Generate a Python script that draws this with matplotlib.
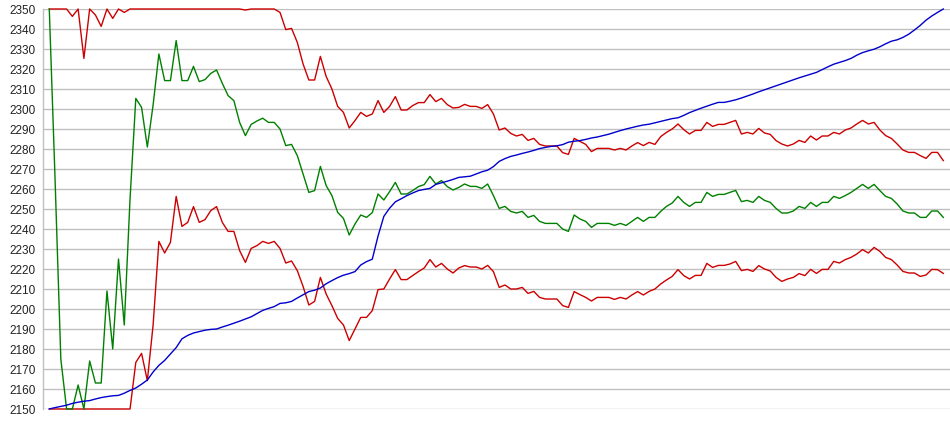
import matplotlib.pyplot as plt

plt.rcParams['font.family'] = ['Liberation Sans', 'DejaVu Sans']

# upper band (red), middle line (green), lower band (red), trend (blue)
upper = [2350, 2350, 2350, 2350, 2346.3, 2350, 2325.3, 2350, 2347, 2341.3,
         2350, 2345.3, 2350, 2348.3, 2350, 2350, 2350, 2350, 2350, 2350,
         2350, 2350, 2350, 2350, 2350, 2350, 2350, 2350, 2350, 2350,
         2350, 2350, 2350, 2350, 2349.5, 2350, 2350, 2350, 2350, 2350,
         2348.3, 2339.7, 2340.3, 2333.3, 2322.5, 2314.5, 2314.5, 2326.3, 2316.3, 2310,
         2301.3, 2298.3, 2290.5, 2294.2, 2298.3, 2296.3, 2297.5, 2304.2, 2298.3, 2301.3,
         2306.2, 2299.5, 2299.5, 2301.7, 2303.2, 2303.2, 2307.2, 2303.7, 2305.3, 2302.2,
         2300.5, 2300.8, 2302.3, 2301.3, 2301.3, 2300.3, 2302.2, 2297.5, 2289.5, 2290.5,
         2287.8, 2286.5, 2287.3, 2284.3, 2285.3, 2282.3, 2281.5, 2281.5, 2281.5, 2278.2,
         2277.3, 2285.3, 2283.8, 2282.3, 2278.7, 2280.3, 2280.3, 2280.3, 2279.5, 2280.3,
         2279.5, 2281.5, 2283.2, 2281.7, 2283.3, 2282.3, 2286.2, 2288.3, 2290, 2292.5,
         2289.7, 2287.5, 2289.3, 2289.3, 2293.3, 2291.3, 2292.3, 2292.3, 2293.3, 2294.3,
         2287.5, 2288.3, 2287.5, 2290.3, 2288, 2287.3, 2284.2, 2282.5, 2281.5, 2282.5,
         2284.3, 2283.3, 2286.5, 2284.5, 2286.5, 2286.5, 2288.3, 2287.5, 2289.5, 2290.5,
         2292.5, 2294.3, 2292.5, 2293.3, 2289.5, 2286.7, 2285.3, 2282.5, 2279.5, 2278.3,
         2278.3, 2276.7, 2275.3, 2278.3, 2278.3, 2274.2]

middle = [2350, 2265, 2175, 2150, 2150, 2162, 2150, 2174, 2163, 2163,
          2209, 2180, 2225, 2192, 2255, 2305.3, 2300.8, 2281, 2302, 2327.5,
          2314.2, 2314.2, 2334.2, 2314.2, 2314.2, 2321.3, 2313.7, 2314.7, 2317.8, 2319.5,
          2312.8, 2306.7, 2304.2, 2293.3, 2286.7, 2292.3, 2294, 2295.4, 2293.3, 2293.3,
          2290, 2281.7, 2282.3, 2276.7, 2267.5, 2258.3, 2259.2, 2271.3, 2261.7, 2256.7,
          2248.3, 2245.3, 2237, 2242.5, 2247, 2245.8, 2248.2, 2257.5, 2254.5, 2258.7,
          2263.3, 2257.5, 2257.5, 2259.2, 2261.2, 2262.2, 2266.3, 2262.5, 2264.2, 2261.2,
          2259.5, 2260.8, 2262.5, 2261.3, 2261.3, 2260.3, 2262.5, 2256.7, 2250.3, 2251.3,
          2248.8, 2248, 2248.8, 2245.8, 2246.8, 2243.8, 2242.8, 2242.8, 2242.8, 2240,
          2238.8, 2247, 2245, 2243.8, 2240.8, 2242.8, 2242.8, 2242.8, 2241.8, 2242.8,
          2241.8, 2243.8, 2245.8, 2243.8, 2245.8, 2245.8, 2248.8, 2251.3, 2253, 2256.3,
          2253.3, 2251.3, 2253.3, 2253.3, 2258.3, 2256.3, 2257.3, 2257.3, 2258.3, 2259.3,
          2253.7, 2254.3, 2253.3, 2256.3, 2254.3, 2253.3, 2250.3, 2248, 2248, 2249,
          2251.3, 2250.3, 2253.3, 2251.3, 2253.3, 2253.3, 2256.3, 2255.3, 2256.7, 2258.3,
          2260.3, 2262.3, 2260.3, 2262.3, 2259.2, 2256.3, 2255.3, 2252.5, 2249, 2248,
          2248, 2245.8, 2245.8, 2249, 2249, 2245.8]

lower = [2150, 2150, 2150, 2150, 2150, 2150, 2150, 2150, 2150, 2150,
         2150, 2150, 2150, 2150, 2150, 2173.3, 2177.8, 2164.2, 2192, 2233.8,
         2228, 2233.3, 2256.3, 2241.3, 2243.3, 2251.2, 2243.3, 2244.7, 2249.2, 2251.2,
         2243.3, 2238.8, 2238.8, 2229.2, 2223.3, 2230.3, 2231.7, 2233.8, 2232.8, 2233.8,
         2230.3, 2223, 2224, 2219.2, 2211.3, 2202, 2203.8, 2215.8, 2207.5, 2201.7,
         2195.3, 2192, 2184.2, 2190, 2195.8, 2195.8, 2199.2, 2209.7, 2210, 2215,
         2219.7, 2214.7, 2214.7, 2216.7, 2218.7, 2220.5, 2224.7, 2221, 2222.8, 2220,
         2218, 2220.5, 2221.7, 2221, 2221, 2220, 2221.8, 2218.7, 2210.8, 2212,
         2210, 2210, 2210.8, 2207.8, 2208.8, 2205.8, 2205, 2205, 2205, 2201.7,
         2200.8, 2208.7, 2207.2, 2205.8, 2204, 2205.8, 2205.8, 2205.8, 2204.8, 2205.8,
         2205, 2207, 2208.7, 2207, 2208.8, 2210, 2212.5, 2214.5, 2216.3, 2219.7,
         2216.7, 2215, 2216.8, 2216.8, 2222.8, 2220.8, 2221.8, 2221.8, 2222.5, 2223.8,
         2219.2, 2219.8, 2218.8, 2221.7, 2220, 2219, 2215.8, 2213.8, 2215, 2215.8,
         2217.7, 2216.7, 2219.8, 2217.8, 2219.8, 2219.8, 2223.8, 2223, 2224.7, 2225.8,
         2227.5, 2229.7, 2228, 2230.8, 2228.8, 2225.8, 2224.7, 2222, 2218.8, 2218,
         2218, 2216.3, 2217, 2219.8, 2219.7, 2217.8]

trend = [2150, 2150.7, 2151.3, 2151.9, 2152.8, 2153.4, 2153.9, 2154.2, 2155, 2155.7,
         2156.2, 2156.6, 2156.8, 2157.9, 2159.3, 2160.5, 2162.4, 2164.5, 2168.5, 2171.8,
         2174.3, 2177.5, 2180.7, 2185.1, 2186.8, 2188, 2188.7, 2189.4, 2189.8, 2190,
         2191, 2191.9, 2192.9, 2193.9, 2195, 2196.1, 2197.7, 2199.3, 2200.3, 2201.2,
         2202.8, 2203.1, 2203.8, 2205.5, 2207.1, 2208.7, 2209.4, 2210.5, 2212.6, 2214.2,
         2215.7, 2216.9, 2217.7, 2218.7, 2222, 2223.7, 2224.9, 2236.5, 2246.3, 2250.4,
         2253.6, 2255.1, 2256.7, 2258, 2259.2, 2259.8, 2260.3, 2262.3, 2263.1, 2263.9,
         2264.8, 2265.8, 2266.1, 2266.4, 2267.5, 2268.6, 2269.4, 2271.2, 2273.8, 2275.2,
         2276.3, 2277, 2277.8, 2278.5, 2279.3, 2280.2, 2280.8, 2281.3, 2281.6, 2282.2,
         2283.4, 2283.9, 2284.2, 2284.8, 2285.5, 2286, 2286.7, 2287.4, 2288.3, 2289.2,
         2290, 2290.7, 2291.4, 2292, 2292.4, 2293.1, 2293.8, 2294.5, 2295.2, 2295.6,
         2296.8, 2298.2, 2299.3, 2300.4, 2301.4, 2302.4, 2303.3, 2303.3, 2303.9, 2304.6,
         2305.5, 2306.5, 2307.5, 2308.6, 2309.6, 2310.6, 2311.6, 2312.6, 2313.6, 2314.6,
         2315.6, 2316.5, 2317.4, 2318.3, 2319.7, 2321.1, 2322.4, 2323.3, 2324.2, 2325.3,
         2326.9, 2328.2, 2329.1, 2329.9, 2331.1, 2332.6, 2333.9, 2334.6, 2335.8, 2337.4,
         2339.5, 2341.8, 2344.4, 2346.5, 2348.3, 2350]

yticks = list(range(2150, 2351, 10))
x = range(len(upper))

fig = plt.figure(figsize=(9.5, 4.35), dpi=100)
ax = fig.add_axes([43 / 950, 25 / 435, 907 / 950, 400 / 435])

ax.plot(x, upper, color='#cc0000', lw=1.0, clip_on=False)
ax.plot(x, lower, color='#cc0000', lw=1.0, clip_on=False)
ax.plot(x, middle, color='#008000', lw=1.0, clip_on=False)
ax.plot(x, trend, color='#0000cc', lw=1.0, clip_on=False)

ax.set_xlim(-1.09, 156.16)
ax.set_ylim(2150, 2350)
ax.set_yticks(yticks)
ax.set_xticks([])
ax.yaxis.grid(True, color='#c0c0c0', linewidth=1.0)
ax.set_axisbelow(True)
ax.tick_params(axis='y', length=0, pad=5, labelsize=8.5, labelcolor='#222222')
for side in ['top', 'right', 'bottom']:
    ax.spines[side].set_visible(False)
ax.spines['left'].set_color('#c0c0c0')
ax.spines['left'].set_linewidth(1.0)

fig.savefig('out.png', dpi=100)
